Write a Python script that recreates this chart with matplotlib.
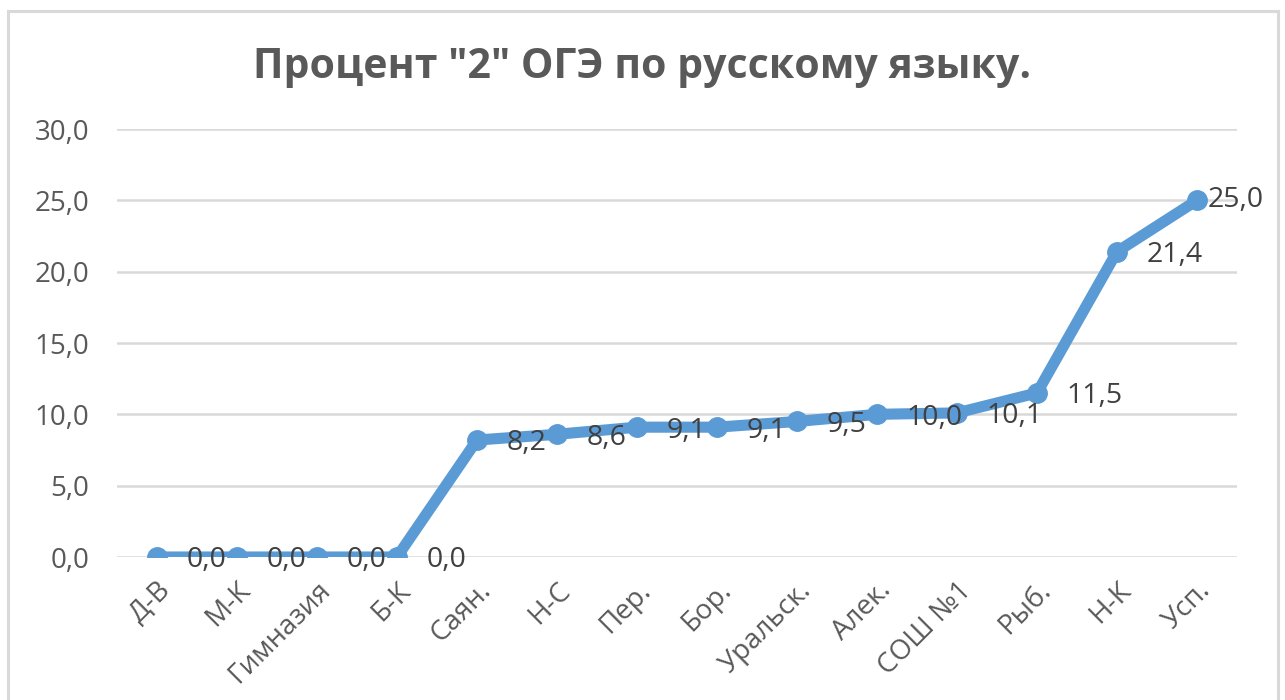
import matplotlib
matplotlib.use("Agg")
import matplotlib.pyplot as plt
from matplotlib.patches import Rectangle

categories = ["Д-В", "М-К", "Гимназия", "Б-К", "Саян.", "Н-С", "Пер.", "Бор.",
              "Уральск.", "Алек.", "СОШ №1", "Рыб.", "Н-К", "Усп."]
values = [0.0, 0.0, 0.0, 0.0, 8.2, 8.6, 9.1, 9.1, 9.5, 10.0, 10.1, 11.5, 21.4, 25.0]
yticks = [0, 5, 10, 15, 20, 25, 30]
title = 'Процент "2" ОГЭ по русскому языку.'

plt.rcParams['font.family'] = ['Open Sans', 'DejaVu Sans']
TXT = '#595959'
LINE = '#5B9BD5'
GRID = '#D9D9D9'

fig = plt.figure(figsize=(12.85, 7.0), dpi=100)
W, H = 1285, 700
ax = fig.add_axes([117 / W, 1 - 557 / H, 1120 / W, (557 - 129) / H])

x = list(range(len(categories)))
ax.plot(x, values, color=LINE, linewidth=8, marker='o', markersize=14,
        solid_capstyle='round', solid_joinstyle='round', zorder=3)

ax.set_xlim(-0.5, len(categories) - 0.5)
ax.set_ylim(0, 30)
ax.set_yticks(yticks)
ax.set_yticklabels([f"{v:.1f}".replace('.', ',') for v in yticks], fontsize=20, color=TXT)
ax.set_xticks(x)
ax.set_xticklabels(categories, rotation=45, ha='right', va='top', rotation_mode='anchor',
                   fontsize=20, color=TXT)
ax.tick_params(axis='both', length=0)
ax.tick_params(axis='y', pad=20)
ax.tick_params(axis='x', pad=14)
ax.grid(axis='y', color=GRID, linewidth=1.8, zorder=0)
ax.set_axisbelow(True)
for s in ax.spines.values():
    s.set_visible(False)

for i, v in enumerate(values):
    dx = 8 if i == len(values) - 1 else 21.5
    dy = 0 if i == len(values) - 1 else -2.5
    ax.annotate(f"{v:.1f}".replace('.', ','), (i, v), xytext=(dx, dy),
                textcoords='offset points', ha='left', va='center',
                fontsize=20.5, color='#404040', zorder=4, annotation_clip=False)

fig.text(0.5, 1 - 68 / H, title, ha='center', va='center', fontsize=29.5,
         fontweight='bold', color=TXT)

fig.patches.append(Rectangle((8 / W, -0.02), (1278 - 8) / W, 1.02 - 11 / H,
                             transform=fig.transFigure, fill=False,
                             edgecolor=GRID, linewidth=2.2))

fig.savefig('out.png', dpi=100)
